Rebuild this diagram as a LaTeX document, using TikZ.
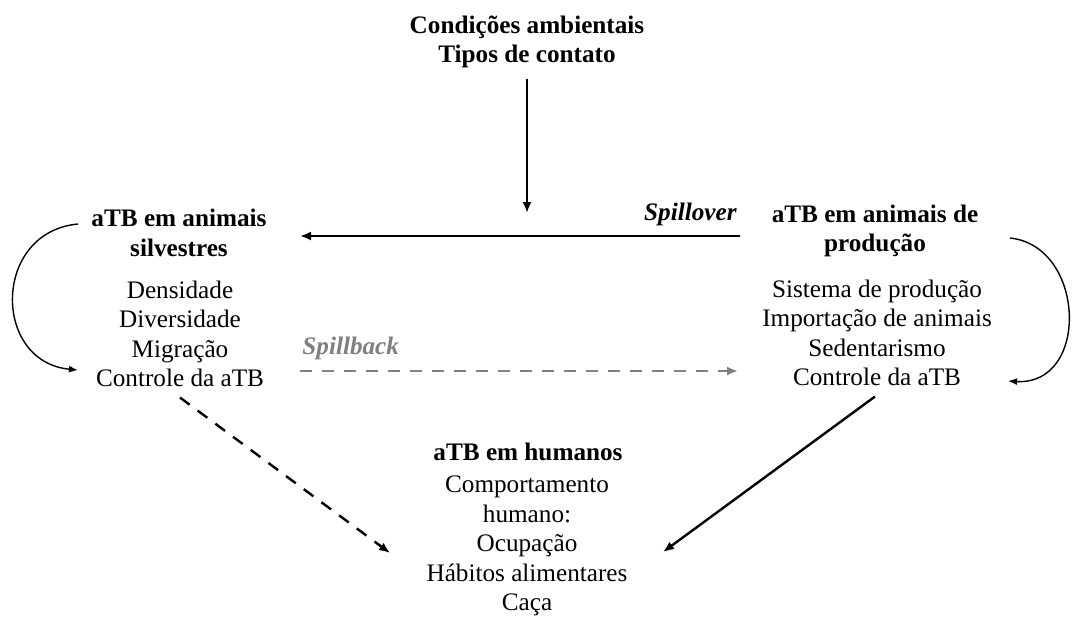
\documentclass[tikz,border=0pt]{standalone}
\usepackage{fontspec}
\setmainfont{Liberation Serif}
\usetikzlibrary{arrows.meta}
\newcommand\txtsize{\fontsize{12.6}{14.75}\selectfont}

\tikzset{
  lbl/.style={font=\txtsize, align=center, inner sep=0pt},
  hd/.style={lbl, font=\txtsize\bfseries},
  arr/.style={-{Latex[length=5.5pt,width=4.5pt]}, line width=1.2pt},
  loop/.style={-{Latex[length=4.5pt,width=3.5pt]}, line width=0.7pt},
}

\begin{document}
\begin{tikzpicture}[x=0.5pt, y=-0.5pt] % one unit = one pixel, y going down

\useasboundingbox (0,0) rectangle (1074,623);

% what drives the spillover
\node[hd] (amb) at (527,42) {Condições ambientais\\Tipos de contato};

% wild animals
\node[hd] (silv) at (179,233) {aTB em animais\\silvestres};
\node[lbl] (silvtxt) at (180,334) {Densidade\\Diversidade\\Migração\\Controle da aTB};

% production animals
\node[hd] (prod) at (875,231) {aTB em animais de\\produção};
\node[lbl] (prodtxt) at (877,333) {Sistema de produção\\Importação de animais\\Sedentarismo\\Controle da aTB};

% humans
\node[hd] (hum) at (528,452) {aTB em humanos};
\node[lbl] (humtxt) at (527,546) {Comportamento\\humano:\\Ocupação\\Hábitos alimentares\\Caça};

% free ends of the connectors
\coordinate (spA) at (740,236);
\coordinate (spB) at (300,236);
\coordinate (ambEnd) at (527,213);
\coordinate (sbA) at (300,371);
\coordinate (sbB) at (738,371);
\coordinate (silvEnd) at (390,553);
\coordinate (prodEnd) at (663,552);

\draw[arr] (spA) -- (spB);
\node[lbl, font=\txtsize\bfseries\itshape, anchor=east] (spill) at (737,214) {Spillover};
\draw[arr] (amb.south) ++(0,10) -- (ambEnd);

\node[lbl, font=\txtsize\bfseries\itshape, text=gray, anchor=west] (spillb) at (302,348) {Spillback};
\draw[arr, gray, line width=1.1pt, dash pattern=on 6pt off 5pt] (sbA) -- (sbB);

% towards humans
\draw[arr, dash pattern=on 6pt off 5pt] (silvtxt.south) ++(0,10) -- (silvEnd);
\draw[arr] (prodtxt.south) ++(-2,10) -- (prodEnd);

% self loops
\draw[loop] (78,224) .. controls (-8,232) and (-8,362) .. (78,370);
\draw[loop] (1010,238) .. controls (1086,246) and (1090,386) .. (1008,381);

\end{tikzpicture}
\end{document}
